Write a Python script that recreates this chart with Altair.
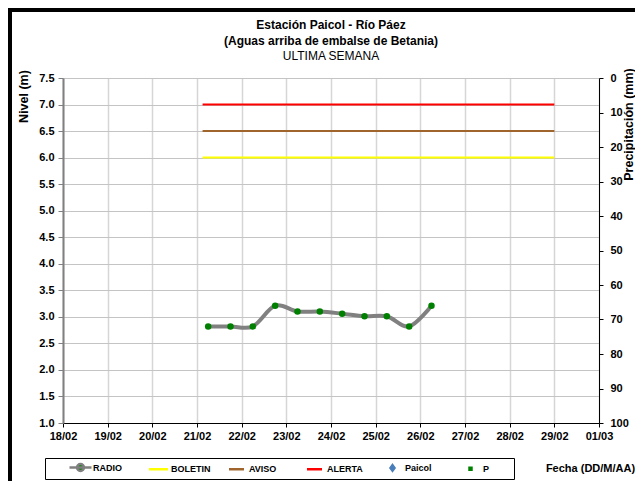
import altair as alt
import pandas as pd

# ---------------- data ----------------
radio_fechas = [
    "2012-02-21T06:00:00", "2012-02-21T18:00:00", "2012-02-22T06:00:00",
    "2012-02-22T18:00:00", "2012-02-23T06:00:00", "2012-02-23T18:00:00",
    "2012-02-24T06:00:00", "2012-02-24T18:00:00", "2012-02-25T06:00:00",
    "2012-02-25T18:00:00", "2012-02-26T06:00:00",
]
radio_nivel = [2.82, 2.82, 2.82, 3.21, 3.10, 3.10, 3.06, 3.01, 3.01, 2.82, 3.21]

umbral_series = ["BOLETIN", "AVISO", "ALERTA"]
umbral_nivel = [6.0, 6.5, 7.0]
umbral_inicio = "2012-02-21T03:00:00"
umbral_fin = "2012-02-29T00:00:00"

series = ["RADIO", "BOLETIN", "AVISO", "ALERTA", "Paicol", "P"]
stroke_colors = ["#808080", "#ffff00", "#a0642d", "#ff0000", "#4a7ebb", "#008000"]
fill_colors = ["#008000", "#ffff00", "#a0642d", "#ff0000", "#4a7ebb", "#008000"]
shapes = [
    "M-2.2,0H2.2M0.7,0A0.7,0.7,0,1,1,-0.7,0A0.7,0.7,0,1,1,0.7,0",
    "M-1.9,0H1.9",
    "M-1.5,0H1.5",
    "M-1.5,0H1.5",
    "M0,-0.55L0.4,0L0,0.55L-0.4,0Z",
    "M-0.2,-0.2H0.2V0.2H-0.2Z",
]

x_domain = ["2012-02-18T00:00:00", "2012-03-01T00:00:00"]
y_ticks = [1.0, 1.5, 2.0, 2.5, 3.0, 3.5, 4.0, 4.5, 5.0, 5.5, 6.0, 6.5, 7.0, 7.5]
p_ticks = [0, 10, 20, 30, 40, 50, 60, 70, 80, 90, 100]

# ---------------- tables ----------------
radio_df = pd.DataFrame({"fecha": radio_fechas, "nivel": radio_nivel, "serie": "RADIO"})
rows = []
for s, v in zip(umbral_series, umbral_nivel):
    rows.append({"fecha": umbral_inicio, "nivel": v, "serie": s})
    rows.append({"fecha": umbral_fin, "nivel": v, "serie": s})
umbral_df = pd.DataFrame(rows)
leyenda_df = pd.DataFrame({"serie": series, "fecha": [None] * 6, "precip": [None] * 6})

FONT = "Liberation Sans"

stroke_scale = alt.Scale(domain=series, range=stroke_colors)
fill_scale = alt.Scale(domain=series, range=fill_colors)
shape_scale = alt.Scale(domain=series, range=shapes)

legend = alt.Legend(
    title="\u00a0", orient="none", legendX=-18, legendY=380, direction="horizontal",
    columns=6, gridAlign="all", columnPadding=11, padding=3, titleOrient="left",
    titlePadding=26, strokeColor="#000000", symbolStrokeWidth=2.5, symbolSize=100,
    labelFont=FONT, labelFontSize=9, labelFontWeight="bold", labelColor="#000000",
    labelOffset=6, symbolOpacity=1,
    labelExpr="datum.label == 'P' ? 'P\u2800\u2800\u2800' : datum.label",
)

x_enc = alt.X(
    "fecha:T",
    scale=alt.Scale(domain=x_domain, nice=False),
    axis=alt.Axis(
        title="Fecha (DD/M/AA)", format="%d/%m", tickCount={"interval": "day", "step": 1},
        grid=True, gridColor="#d6d6d6", gridWidth=1.5, domainColor="#000000", domainWidth=1,
        tickColor="#000000", tickSize=4, labelPadding=3, labelFont=FONT, labelFontSize=11,
        labelFontWeight="bold", labelColor="#000000", labelFlush=False,
        titleFont=FONT, titleFontSize=11, titleFontWeight="bold", titleColor="#000000",
        titleX=527, titleY=45, titleAlign="center", titleBaseline="middle",
    ),
)

y_left = alt.Y(
    "nivel:Q",
    scale=alt.Scale(domain=[1.0, 7.5], nice=False, zero=False),
    axis=alt.Axis(
        title="Nivel (m)", values=y_ticks, format=".1f", grid=True, gridColor="#c4c4c4",
        gridWidth=1, domainColor="#808080", domainWidth=2, tickColor="#808080", tickSize=5,
        labelPadding=4, labelFont=FONT, labelFontSize=11, labelFontWeight="bold",
        labelColor="#000000", titleFont=FONT, titleFontSize=12.5, titleFontWeight="bold",
        titleColor="#000000", titleAngle=270, titleX=-40, titleY=18, titleAlign="center",
        titleBaseline="middle",
    ),
)

umbrales = alt.Chart(umbral_df).mark_line(strokeWidth=2).encode(
    x=x_enc, y=y_left,
    stroke=alt.Stroke("serie:N", scale=stroke_scale, legend=legend),
    detail="serie:N",
)

radio_linea = alt.Chart(radio_df).mark_line(strokeWidth=4, interpolate="cardinal").encode(
    x=x_enc, y=y_left,
    stroke=alt.Stroke("serie:N", scale=stroke_scale, legend=legend),
)

radio_puntos = alt.Chart(radio_df).mark_circle(size=42, color="#008000", opacity=1).encode(
    x=x_enc, y=y_left,
)

borde_izq = alt.Chart(radio_df).mark_rule(color="#000000", strokeWidth=4).encode(
    x=alt.value(-53), y=alt.value(-70), y2=alt.value(410)
)
borde_sup = alt.Chart(radio_df).mark_rule(color="#000000", strokeWidth=4).encode(
    x=alt.value(-55), x2=alt.value(580), y=alt.value(-68)
)

izquierda = alt.layer(umbrales, radio_linea, radio_puntos, borde_izq, borde_sup)

derecha = alt.Chart(leyenda_df).mark_point(filled=True, opacity=1).encode(
    x=x_enc,
    y=alt.Y(
        "precip:Q",
        scale=alt.Scale(domain=[0, 100], reverse=True, nice=False),
        axis=alt.Axis(
            title="Precipitación (mm)", orient="right", values=p_ticks, grid=False,
            domainColor="#000000", domainWidth=1, tickColor="#000000", tickSize=4,
            labelPadding=7, labelFont=FONT, labelFontSize=11, labelFontWeight="bold",
            labelColor="#000000", titleFont=FONT, titleFontSize=12.5, titleFontWeight="bold",
            titleColor="#000000", titleAngle=270, titleX=29, titleY=46,
            titleAlign="center", titleBaseline="middle",
        ),
    ),
    fill=alt.Fill("serie:N", scale=fill_scale, legend=legend),
    stroke=alt.Stroke("serie:N", scale=stroke_scale, legend=legend),
    shape=alt.Shape("serie:N", scale=shape_scale, legend=legend),
)

chart = (
    alt.layer(izquierda, derecha)
    .resolve_scale(y="independent")
    .properties(
        width=536, height=345,
        autosize=alt.AutoSizeParams(type="none"),
        padding={"left": 55, "top": 70, "right": 36, "bottom": 58},
        title=alt.TitleParams(
            text=["Estación Paicol  - Río Páez", "(Aguas arriba de embalse de Betania)"],
            subtitle="ULTIMA SEMANA", font=FONT, fontSize=12, fontWeight="bold",
            color="#000000", subtitleFont=FONT, subtitleFontSize=12,
            subtitleFontWeight="normal", subtitleColor="#000000", lineHeight=16,
            subtitleLineHeight=16, subtitlePadding=3, anchor="middle", frame="group",
            offset=-57,
        ),
    )
    .configure_view(stroke=None)
    .configure(background="#ffffff")
)

chart.save("out.html", embed_options={"renderer": "svg", "actions": False})
